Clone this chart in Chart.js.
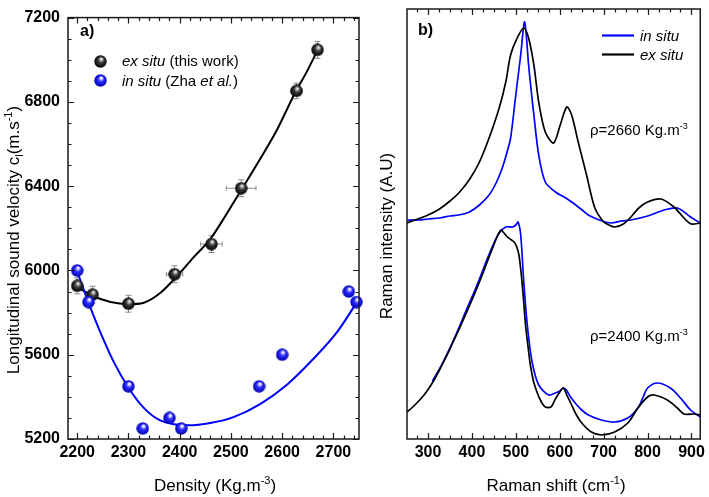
<!DOCTYPE html>
<html>
<head>
<meta charset="utf-8">
<script src="https://cdn.jsdelivr.net/npm/chart.js@4.4.1/dist/chart.umd.min.js"></script>
<style>
  html, body { margin: 0; padding: 0; background: #fff; }
  #wrap { position: relative; width: 709px; height: 497px; overflow: hidden; }
  #chartA { position: absolute; left: 0; top: 0; }
  #chartB { position: absolute; left: 360px; top: 0; }
</style>
</head>
<body>
<div id="wrap">
  <canvas id="chartA" width="372" height="497"></canvas>
  <canvas id="chartB" width="349" height="497"></canvas>
</div>
<script>
// ---- panel a) : sound velocity vs density ----
const exDensity = [2200, 2230, 2300, 2390, 2462, 2520, 2628, 2669];
const exVelocity = [5927, 5885, 5842, 5982, 6125, 6390, 6852, 7047];
const exDensityErr = [5, 8, 10, 16, 21, 29, 11, 8];
const exVelocityErr = [38, 40, 40, 40, 40, 40, 37, 40];

const inDensity = [2200, 2222, 2300, 2328, 2380, 2403, 2555, 2600, 2730, 2745];
const inVelocity = [6000, 5850, 5450, 5250, 5300, 5250, 5450, 5600, 5900, 5850];

// fitted curves
const exFitDensity = [2198, 2230, 2265, 2300, 2330, 2362, 2391, 2427, 2460, 2490, 2522, 2557, 2590, 2626, 2649, 2668];
const exFitVelocity = [5925, 5880, 5850, 5840, 5847, 5893, 5963, 6062, 6150, 6262, 6389, 6529, 6668, 6847, 6947, 7040];
const inFitDensity = [2200, 2222, 2245, 2271, 2300, 2329, 2362, 2417, 2460, 2505, 2557, 2610, 2662, 2707, 2743, 2750];
const inFitVelocity = [5995, 5847, 5707, 5567, 5443, 5350, 5288, 5265, 5276, 5304, 5366, 5459, 5583, 5707, 5839, 5868];

// ---- panel b) : Raman spectra (arbitrary units) ----
const exUpperShift = [252, 270, 300, 326, 350, 372, 395, 417, 439, 462, 477, 488, 503, 518, 529, 541, 552, 567, 586, 601, 616, 627, 642, 661, 680, 700, 712, 725, 745, 762, 780, 800, 830, 860, 885, 900, 920];
const exUpperInt = [216, 219, 224, 230, 238, 247, 260, 277, 301, 331, 357, 384, 401, 411, 401, 374, 337, 307, 296, 314, 332, 324, 297, 264, 231, 217, 214, 212, 215, 222, 231, 237, 240, 232, 220, 215, 216];

const inUpperShift = [252, 280, 300, 326, 350, 370, 394, 417, 439, 455, 469, 480, 488, 499, 511, 520, 529, 535, 541, 552, 567, 590, 610, 627, 648, 665, 690, 717, 740, 762, 800, 838, 868, 898, 920];
const inUpperInt = [219, 219, 220, 221, 223, 224, 227, 234, 244, 256, 271, 287, 301, 341, 384, 417, 374, 348, 324, 284, 257, 247, 242, 237, 230, 224, 219, 216, 218, 219, 223, 229, 231, 222, 216];

const exLowerShift = [252, 265, 281, 296, 311, 326, 341, 356, 372, 387, 402, 417, 432, 447, 457, 466, 473, 481, 490, 496, 502, 507, 511, 514, 518, 522, 527, 533, 540, 548, 558, 567, 580, 590, 600, 608, 617, 627, 638, 650, 672, 695, 725, 755, 778, 800, 815, 845, 868, 883, 905, 920];
const exLowerInt = [27, 32, 39, 47, 57, 69, 82, 96, 111, 126, 141, 157, 174, 191, 202, 209, 206, 202, 199, 197, 192, 184, 170, 157, 136, 114, 95, 74, 58, 47, 37, 32, 32, 40, 47, 51, 43, 34, 24, 16, 7, 4, 7, 16, 31, 42, 44, 39, 31, 25, 25, 24];

const inLowerShift = [310, 326, 341, 356, 372, 387, 402, 417, 432, 447, 462, 477, 492, 500, 505, 511, 518, 526, 537, 552, 575, 590, 600, 608, 615, 623, 635, 650, 665, 695, 725, 755, 778, 790, 800, 822, 852, 875, 898, 920];
const inLowerInt = [58, 70, 83, 97, 113, 129, 144, 160, 177, 193, 206, 212, 212, 214, 217, 204, 157, 114, 77, 54, 44, 46, 48, 51, 49, 43, 36, 29, 24, 19, 17, 21, 31, 42, 51, 56, 51, 41, 29, 22];

const FONT = 'Arial, "Liberation Sans", sans-serif';
const BLUE = '#0000ff';

function pts(xs, ys) {
  return xs.map((x, i) => ({ x: x, y: ys[i] }));
}

// shaded ball used as point marker
function sphere(r, light, mid, dark) {
  const c = document.createElement('canvas');
  c.width = c.height = Math.round(2 * r);
  const g = c.getContext('2d');
  const grad = g.createRadialGradient(r * 1.15, r * 0.6, r * 0.1, r, r, r);
  grad.addColorStop(0, light);
  grad.addColorStop(0.4, mid);
  grad.addColorStop(1, dark);
  g.fillStyle = grad;
  g.beginPath();
  g.arc(r, r, r - 0.3, 0, Math.PI * 2);
  g.fill();
  return c;
}
const blackBall = sphere(6.5, '#e6e6e6', '#3a3a3a', '#000000');
const blueBall = sphere(6.5, '#ffffff', '#2b2bff', '#0000a8');

// text made of runs: [text, style] style = '', 'i', 'b', 'sup', 'sub'
function rich(ctx, parts, x, y, size, align) {
  let total = 0;
  const items = parts.map(([t, st]) => {
    const small = st === 'sup' || st === 'sub';
    const fs = small ? Math.round(size * 0.62) : size;
    const font = (st === 'i' ? 'italic ' : st === 'b' ? 'bold ' : '') + fs + 'px ' + FONT;
    ctx.font = font;
    const w = ctx.measureText(t).width;
    total += w;
    return { t, font, w, dy: st === 'sup' ? -size * 0.4 : st === 'sub' ? size * 0.22 : 0 };
  });
  let cx = align === 'center' ? x - total / 2 : x;
  ctx.textAlign = 'left';
  ctx.textBaseline = 'alphabetic';
  items.forEach(it => {
    ctx.font = it.font;
    ctx.fillText(it.t, cx, y + it.dy);
    cx += it.w;
  });
}

// box + inward tick marks
function drawFrame(chart, spec) {
  const ctx = chart.ctx, a = chart.chartArea;
  ctx.save();
  ctx.strokeStyle = '#1a1a1a';
  ctx.lineWidth = 1.5;
  ctx.strokeRect(a.left, a.top, a.right - a.left, a.bottom - a.top);
  ctx.lineWidth = 1.2;
  ctx.beginPath();
  spec.forEach(s => {
    const scale = chart.scales[s.axis];
    for (let v = s.from; v <= s.to; v += s.minor) {
      const len = (v % s.major === 0) ? 6 : 3.5;
      const p = Math.round(scale.getPixelForValue(v)) + 0.5;
      s.sides.forEach(side => {
        if (side === 'bottom') { ctx.moveTo(p, a.bottom); ctx.lineTo(p, a.bottom - len); }
        if (side === 'top') { ctx.moveTo(p, a.top); ctx.lineTo(p, a.top + len); }
        if (side === 'left') { ctx.moveTo(a.left, p); ctx.lineTo(a.left + len, p); }
        if (side === 'right') { ctx.moveTo(a.right, p); ctx.lineTo(a.right - len, p); }
      });
    }
  });
  ctx.stroke();
  ctx.restore();
}

const errorBars = {
  id: 'errorBars',
  beforeDatasetsDraw(chart) {
    const ctx = chart.ctx, xs = chart.scales.x, ys = chart.scales.y;
    ctx.save();
    ctx.strokeStyle = '#8a8a8a';
    ctx.lineWidth = 1;
    ctx.beginPath();
    exDensity.forEach((d, i) => {
      const px = xs.getPixelForValue(d), py = ys.getPixelForValue(exVelocity[i]);
      const x1 = xs.getPixelForValue(d - exDensityErr[i]), x2 = xs.getPixelForValue(d + exDensityErr[i]);
      const y1 = ys.getPixelForValue(exVelocity[i] - exVelocityErr[i]), y2 = ys.getPixelForValue(exVelocity[i] + exVelocityErr[i]);
      ctx.moveTo(x1, py); ctx.lineTo(x2, py);
      ctx.moveTo(x1, py - 2.5); ctx.lineTo(x1, py + 2.5);
      ctx.moveTo(x2, py - 2.5); ctx.lineTo(x2, py + 2.5);
      ctx.moveTo(px, y1); ctx.lineTo(px, y2);
      ctx.moveTo(px - 3, y1); ctx.lineTo(px + 3, y1);
      ctx.moveTo(px - 3, y2); ctx.lineTo(px + 3, y2);
    });
    ctx.stroke();
    ctx.restore();
  }
};

const decorA = {
  id: 'decorA',
  afterDraw(chart) {
    const ctx = chart.ctx;
    drawFrame(chart, [
      { axis: 'x', from: 2200, to: 2740, minor: 20, major: 100, sides: ['bottom', 'top'] },
      { axis: 'y', from: 5200, to: 7200, minor: 100, major: 400, sides: ['left', 'right'] }
    ]);
    ctx.save();
    ctx.fillStyle = '#000';
    rich(ctx, [['a)', 'b']], 80, 36, 16, 'left');
    ctx.drawImage(blackBall, 94, 55);
    ctx.drawImage(blueBall, 94, 74);
    rich(ctx, [['ex situ', 'i'], [' (this work)', '']], 122, 66, 15, 'left');
    rich(ctx, [['in situ', 'i'], [' (Zha ', ''], ['et al.', 'i'], [')', '']], 122, 86, 15, 'left');
    rich(ctx, [['Density (Kg.m', ''], ['-3', 'sup'], [')', '']], 215, 491, 17, 'center');
    ctx.translate(13, 240);
    ctx.rotate(-Math.PI / 2);
    rich(ctx, [['Longitudinal sound velocity c', ''], ['l', 'sub'], ['(m.s', ''], ['-1', 'sup'], [')', '']], 0, 6, 17, 'center');
    ctx.restore();
  }
};

const decorB = {
  id: 'decorB',
  afterDraw(chart) {
    const ctx = chart.ctx;
    drawFrame(chart, [
      { axis: 'x', from: 275, to: 900, minor: 25, major: 100, sides: ['bottom', 'top'] }
    ]);
    ctx.save();
    ctx.fillStyle = '#000';
    rich(ctx, [['b)', 'b']], 58, 35, 16, 'left');
    ctx.lineWidth = 2.2;
    ctx.strokeStyle = BLUE;
    ctx.beginPath(); ctx.moveTo(242, 35.5); ctx.lineTo(274, 35.5); ctx.stroke();
    ctx.strokeStyle = '#000';
    ctx.beginPath(); ctx.moveTo(242, 54.5); ctx.lineTo(274, 54.5); ctx.stroke();
    rich(ctx, [['in situ', 'i']], 280, 41, 15, 'left');
    rich(ctx, [['ex situ', 'i']], 280, 60, 15, 'left');
    rich(ctx, [['\u03c1=2660 Kg.m', ''], ['-3', 'sup']], 230, 135, 15, 'left');
    rich(ctx, [['\u03c1=2400 Kg.m', ''], ['-3', 'sup']], 230, 341, 15, 'left');
    rich(ctx, [['Raman shift (cm', ''], ['-1', 'sup'], [')', '']], 196, 491, 17, 'center');
    ctx.translate(26, 236);
    ctx.rotate(-Math.PI / 2);
    rich(ctx, [['Raman intensity (A.U)', '']], 0, 6, 17, 'center');
    ctx.restore();
  }
};

const tickFont = { family: FONT, size: 16, weight: 'bold' };
const plainNumber = v => String(v);

new Chart(document.getElementById('chartA'), {
  type: 'line',
  data: {
    datasets: [
      { data: pts(inDensity, inVelocity), showLine: false, pointStyle: blueBall, pointRadius: 6, clip: false, order: 0 },
      { data: pts(exDensity, exVelocity), showLine: false, pointStyle: blackBall, pointRadius: 6, clip: false, order: 1 },
      { data: pts(inFitDensity, inFitVelocity), borderColor: BLUE, borderWidth: 2, pointRadius: 0, cubicInterpolationMode: 'monotone', order: 2 },
      { data: pts(exFitDensity, exFitVelocity), borderColor: '#000', borderWidth: 2, pointRadius: 0, cubicInterpolationMode: 'monotone', order: 3 }
    ]
  },
  options: {
    responsive: false,
    animation: false,
    events: [],
    layout: { padding: { top: 9, right: 13, left: 0, bottom: 0 } },
    plugins: { legend: { display: false }, tooltip: { enabled: false } },
    scales: {
      x: {
        type: 'linear', min: 2182, max: 2750,
        grid: { display: false, drawTicks: false }, border: { display: false },
        ticks: { stepSize: 100, includeBounds: false, autoSkip: false, maxRotation: 0, color: '#000', font: tickFont, padding: 4, callback: plainNumber },
        afterFit(s) { s.height = 58; }
      },
      y: {
        min: 5200, max: 7200,
        grid: { display: false, drawTicks: false }, border: { display: false },
        ticks: { stepSize: 400, color: '#000', font: tickFont, padding: 8, callback: plainNumber },
        afterFit(s) { s.width = 68; }
      }
    }
  },
  plugins: [errorBars, decorA]
});

new Chart(document.getElementById('chartB'), {
  type: 'line',
  data: {
    datasets: [
      { data: pts(exUpperShift, exUpperInt), borderColor: '#000', order: 0 },
      { data: pts(inUpperShift, inUpperInt), borderColor: BLUE, order: 1 },
      { data: pts(exLowerShift, exLowerInt), borderColor: '#000', order: 0 },
      { data: pts(inLowerShift, inLowerInt), borderColor: BLUE, order: 1 }
    ]
  },
  options: {
    responsive: false,
    animation: false,
    events: [],
    layout: { padding: { top: 9, right: 6, left: 47, bottom: 0 } },
    plugins: { legend: { display: false }, tooltip: { enabled: false } },
    elements: {
      line: { borderWidth: 1.7, tension: 0.3 },
      point: { radius: 0 }
    },
    scales: {
      x: {
        type: 'linear', min: 252, max: 920,
        grid: { display: false, drawTicks: false }, border: { display: false },
        ticks: { stepSize: 100, includeBounds: false, autoSkip: false, maxRotation: 0, color: '#000', font: tickFont, padding: 4, callback: plainNumber },
        afterFit(s) { s.height = 58; }
      },
      y: { display: false, min: 0, max: 430 }
    }
  },
  plugins: [decorB]
});
</script>
</body>
</html>
